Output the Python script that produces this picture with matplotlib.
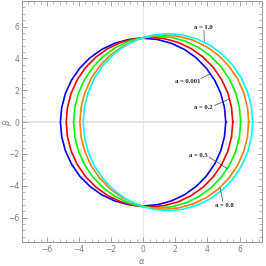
import numpy as np
import matplotlib
matplotlib.use("Agg")
import matplotlib.pyplot as plt
from matplotlib.ticker import MultipleLocator

# upper half of each shadow outline (alpha, beta);
# the outlines are symmetric about beta = 0
beta_blue = [0, 0.915, 1.802, 2.635, 3.388, 4.037, 4.564, 4.952, 5.190, 5.27,
             5.190, 4.952, 4.564, 4.037, 3.388, 2.635, 1.802, 0.915, 0]
alpha_blue = [5.14, 5.06, 4.83, 4.45, 3.93, 3.30, 2.57, 1.75, 0.88, -0.01,
              -0.90, -1.77, -2.59, -3.32, -3.96, -4.47, -4.85, -5.08, -5.16]

beta_red = [0, 0.926, 1.823, 2.665, 3.426, 4.083, 4.616, 5.009, 5.249, 5.33,
            5.249, 5.009, 4.616, 4.083, 3.426, 2.665, 1.823, 0.926, 0]
alpha_red = [5.58, 5.50, 5.27, 4.89, 4.37, 3.73, 2.99, 2.17, 1.29, 0.39,
             -0.51, -1.39, -2.21, -2.95, -3.59, -4.11, -4.49, -4.72, -4.80]

beta_green = [0, 0.937, 1.847, 2.70, 3.471, 4.136, 4.676, 5.074, 5.318, 5.40,
              5.318, 5.074, 4.676, 4.136, 3.471, 2.70, 1.847, 0.937, 0]
alpha_green = [6.07, 5.99, 5.76, 5.37, 4.85, 4.21, 3.47, 2.65, 1.77, 0.87,
               -0.04, -0.92, -1.74, -2.48, -3.12, -3.64, -4.03, -4.26, -4.34]

beta_orange = [0, 0.950, 1.871, 2.735, 3.516, 4.190, 4.737, 5.140, 5.387, 5.47,
               5.387, 5.140, 4.737, 4.190, 3.516, 2.735, 1.871, 0.950, 0]
alpha_orange = [6.57, 6.49, 6.25, 5.87, 5.34, 4.69, 3.94, 3.11, 2.22, 1.31,
                0.40, -0.49, -1.32, -2.07, -2.72, -3.25, -3.63, -3.87, -3.95]

beta_cyan = [0, 0.966, 1.901, 2.78, 3.574, 4.259, 4.815, 5.225, 5.476, 5.56,
             5.476, 5.225, 4.815, 4.259, 3.574, 2.78, 1.901, 0.966, 0]
alpha_cyan = [6.82, 6.74, 6.50, 6.11, 5.58, 4.93, 4.18, 3.35, 2.46, 1.54,
              0.62, -0.27, -1.10, -1.85, -2.50, -3.03, -3.42, -3.66, -3.74]

spins = ["0.001", "0.2", "0.5", "0.8", "1.0"]
# label text position and point on the curve for each leader line
label_xy = [(2.8, 2.57), (3.73, 0.91), (3.42, -2.09), (5.08, -5.25), (3.73, 5.97)]
leader_from = [(3.6, 2.75), (4.45, 1.05), (4.1, -2.2), (4.95, -4.95), (3.78, 5.75)]
leader_to = [(4.2, 3.05), (5.35, 1.45), (5.25, -2.93), (4.8, -4.15), (3.8, 5.05)]

curves = [(alpha_blue, beta_blue, "#0000ff"),
          (alpha_red, beta_red, "#ff0000"),
          (alpha_green, beta_green, "#00ff00"),
          (alpha_orange, beta_orange, "#ff8000"),
          (alpha_cyan, beta_cyan, "#00ffff")]

gray = "#999999"

fig = plt.figure(figsize=(2.66, 2.66), dpi=100)
ax = fig.add_axes([0.083, 0.089, 0.902, 0.908])

ax.axhline(0, color="#e6e6e6", lw=1.4, zorder=0)
ax.axvline(0, color="#e6e6e6", lw=0.8, zorder=0)

for a, b, c in curves:
    a = np.array(a)
    b = np.array(b)
    ax.plot(np.concatenate([a, a[::-1]]), np.concatenate([b, -b[::-1]]),
            color=c, lw=1.2, solid_joinstyle="round")

for s, xy, p0, p1 in zip(spins, label_xy, leader_from, leader_to):
    ax.text(xy[0], xy[1], f"a = {s}", fontsize=4.8, family="Liberation Serif",
            fontweight="bold", ha="center", va="center", color="#222222")
    ax.plot([p0[0], p1[0]], [p0[1], p1[1]], color="#444444", lw=0.5)

ax.set_xlim(-7.55, 7.4)
ax.set_ylim(-7.55, 7.62)
ax.xaxis.set_major_locator(MultipleLocator(2))
ax.yaxis.set_major_locator(MultipleLocator(2))
ax.xaxis.set_minor_locator(MultipleLocator(0.4))
ax.yaxis.set_minor_locator(MultipleLocator(0.4))
ax.tick_params(which="both", direction="in", top=True, right=True,
               color=gray, labelcolor="#808080", labelsize=5.5, pad=2)
ax.tick_params(which="major", length=3.5, width=0.6)
ax.tick_params(which="minor", length=2, width=0.5)
for sp in ax.spines.values():
    sp.set_color(gray)
    sp.set_linewidth(0.7)

ax.set_xlabel(r"$\alpha$", color="#808080", fontsize=6, labelpad=2)
fig.text(8 / 266, 1 - 122 / 266, r"$\beta$", color="#808080", fontsize=6,
         rotation=90, ha="center", va="center")

fig.savefig("out.png", dpi=100)
